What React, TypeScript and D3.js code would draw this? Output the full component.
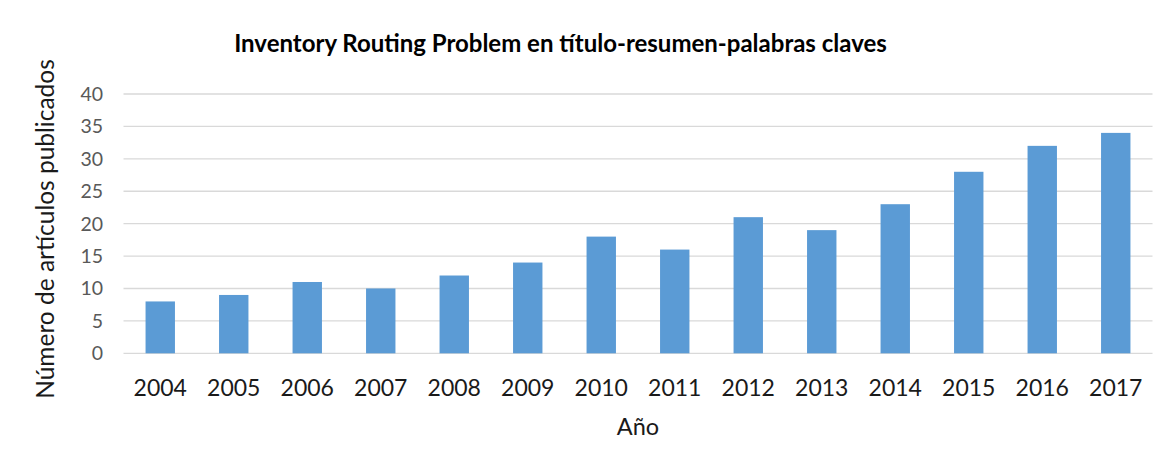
import React, { useRef, useEffect } from 'react';
import * as d3 from 'd3';

const years = ['2004', '2005', '2006', '2007', '2008', '2009', '2010', '2011', '2012', '2013', '2014', '2015', '2016', '2017'];
const counts = [8, 9, 11, 10, 12, 14, 18, 16, 21, 19, 23, 28, 32, 34];
const yTicks = [0, 5, 10, 15, 20, 25, 30, 35, 40];

const W = 1172;
const H = 468;

export default function App() {
  const svgRef = useRef<SVGSVGElement>(null);

  useEffect(() => {
    const svg = d3.select(svgRef.current);
    svg.selectAll('*').remove();

    const font = 'Lato, "Open Sans", sans-serif';
    const left = 123.5;
    const right = 1152.5;
    const top = 94;
    const bottom = 353.3;

    const x = d3.scaleBand().domain(years).range([left, right]).paddingInner(0.6).paddingOuter(0.3);
    const y = d3.scaleLinear().domain([0, 40]).range([bottom, top]);

    svg.append('rect').attr('width', W).attr('height', H).attr('fill', '#fff');

    // rejilla
    svg.append('g')
      .selectAll('line')
      .data(yTicks)
      .enter()
      .append('line')
      .attr('x1', left)
      .attr('x2', right)
      .attr('y1', (d) => y(d))
      .attr('y2', (d) => y(d))
      .attr('stroke', '#d9d9d9')
      .attr('stroke-width', 1.3);

    // etiquetas eje Y
    svg.append('g')
      .selectAll('text')
      .data(yTicks)
      .enter()
      .append('text')
      .attr('x', 103)
      .attr('y', (d) => y(d) + 7)
      .attr('text-anchor', 'end')
      .attr('fill', '#595959')
      .style('font-family', font)
      .style('font-size', '19.5px')
      .text((d) => d);

    // barras
    svg.append('g')
      .selectAll('rect')
      .data(counts)
      .enter()
      .append('rect')
      .attr('x', (d, i) => x(years[i])!)
      .attr('width', x.bandwidth())
      .attr('y', (d) => y(d))
      .attr('height', (d) => y(0) - y(d))
      .attr('fill', '#5b9bd5');

    // etiquetas eje X
    svg.append('g')
      .selectAll('text')
      .data(years)
      .enter()
      .append('text')
      .attr('x', (d) => x(d)! + x.bandwidth() / 2)
      .attr('y', 396)
      .attr('text-anchor', 'middle')
      .attr('fill', '#1a1a1a')
      .style('font-family', font)
      .style('font-size', '23px')
      .text((d) => d);

    // título
    svg.append('text')
      .attr('x', 560.5)
      .attr('y', 52)
      .attr('text-anchor', 'middle')
      .attr('fill', '#000')
      .style('font-family', font)
      .style('font-size', '24px')
      .style('font-weight', 'bold')
      .text('Inventory Routing Problem en título-resumen-palabras claves');

    // título eje X
    svg.append('text')
      .attr('x', 638)
      .attr('y', 435)
      .attr('text-anchor', 'middle')
      .attr('fill', '#1a1a1a')
      .style('font-family', font)
      .style('font-size', '23.5px')
      .text('Año');

    // título eje Y
    svg.append('text')
      .attr('transform', `translate(54, 229) rotate(-90)`)
      .attr('text-anchor', 'middle')
      .attr('fill', '#1a1a1a')
      .style('font-family', font)
      .style('font-size', '24.5px')
      .text('Número de artículos publicados');
  }, []);

  return <svg ref={svgRef} width={W} height={H} style={{ display: 'block', position: 'absolute', left: 0, top: 0 }} />;
}
